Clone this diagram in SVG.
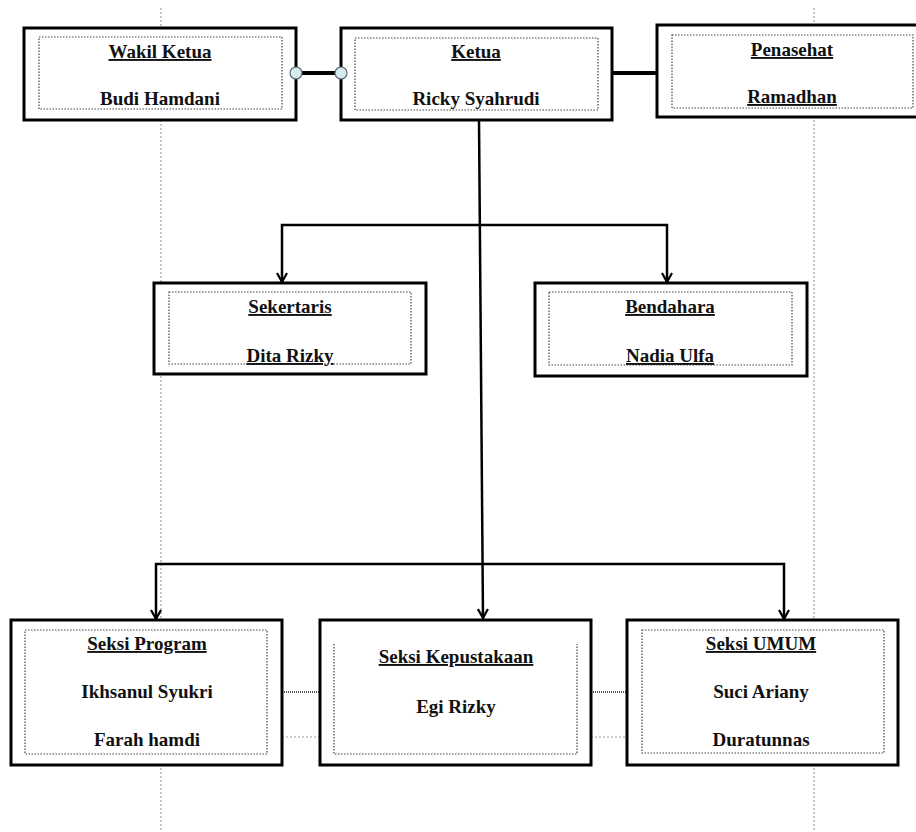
<svg xmlns="http://www.w3.org/2000/svg" width="916" height="832" viewBox="0 0 916 832">
<defs>
<marker id="arr" viewBox="0 0 12 12" refX="11" refY="6" markerWidth="12" markerHeight="12" markerUnits="userSpaceOnUse" orient="auto-start-reverse">
<path d="M2,1 L11,6 L2,11" fill="none" stroke="#000" stroke-width="2.2"/>
</marker>
</defs>
<style>
.guide{stroke:#888;stroke-width:1;stroke-dasharray:2 2;fill:none}
.box{fill:#fff;stroke:#000;stroke-width:3}
.inner{fill:none;stroke:#444;stroke-width:1.2;stroke-dasharray:1.5 1.5}
text{font-family:'Liberation Serif','Times New Roman',serif;font-weight:bold;font-size:19px;fill:#111;text-anchor:middle}
.u{text-decoration:underline}
.con{stroke:#000;stroke-width:2.5;fill:none}
.thick{stroke:#000;stroke-width:4;fill:none}
.dot{stroke:#555;stroke-width:2;stroke-dasharray:1 1;fill:none}
.dot2{stroke:#999;stroke-width:1;stroke-dasharray:2 2;fill:none}
</style>
<rect width="916" height="832" fill="#fff"/>
<g id="guides">
<line class="guide" x1="161" y1="8" x2="161" y2="832"/>
<line class="guide" x1="814" y1="8" x2="814" y2="832"/>
</g>
<g id="connectors">
<line class="thick" x1="296" y1="73" x2="341" y2="73"/>
<line class="thick" x1="612" y1="73" x2="657" y2="73"/>
<line class="con" x1="479" y1="120" x2="483" y2="618" marker-end="url(#arr)"/>
<path class="con" d="M282,282 L282,225 L667,225 L667,282" marker-start="url(#arr)" marker-end="url(#arr)"/>
<path class="con" d="M156,619 L156,564 L784,564 L784,619" marker-start="url(#arr)" marker-end="url(#arr)"/>
<line class="dot" x1="282" y1="692" x2="320" y2="692"/>
<line class="dot" x1="591" y1="692" x2="627" y2="692"/>
<line class="dot2" x1="282" y1="737" x2="320" y2="737"/>
<line class="dot2" x1="591" y1="737" x2="627" y2="737"/>
</g>
<g id="wakil">
<rect class="box" x="24" y="28" width="272" height="92"/>
<rect class="inner" x="39" y="37" width="243" height="72"/>
<text class="u" x="160" y="58" font-family="Liberation Serif">Wakil Ketua</text>
<text x="160" y="105" font-family="Liberation Serif">Budi Hamdani</text>
</g>
<g id="ketua">
<rect class="box" x="341" y="28" width="271" height="92"/>
<rect class="inner" x="355" y="38" width="243" height="72"/>
<text class="u" x="476" y="58">Ketua</text>
<text x="476" y="105">Ricky Syahrudi</text>
</g>
<g id="penasehat">
<rect class="box" x="657" y="25" width="272" height="92"/>
<rect class="inner" x="672" y="35" width="241" height="73"/>
<text class="u" x="792" y="56">Penasehat</text>
<text class="u" x="792" y="103">Ramadhan</text>
</g>
<g id="handles">
<circle cx="296" cy="73" r="6" fill="#d4ecee" stroke="#667" stroke-width="1.2"/>
<circle cx="341" cy="73" r="6" fill="#d4ecee" stroke="#667" stroke-width="1.2"/>
</g>
<g id="sekertaris">
<rect class="box" x="154" y="283" width="272" height="91"/>
<rect class="inner" x="169" y="292" width="242" height="72"/>
<text class="u" x="290" y="313">Sekertaris</text>
<text class="u" x="290" y="362">Dita Rizky</text>
</g>
<g id="bendahara">
<rect class="box" x="535" y="283" width="272" height="93"/>
<rect class="inner" x="549" y="292" width="243" height="73"/>
<text class="u" x="670" y="313">Bendahara</text>
<text class="u" x="670" y="362">Nadia Ulfa</text>
</g>
<g id="program">
<rect class="box" x="11" y="620" width="271" height="145"/>
<rect class="inner" x="25" y="630" width="242" height="124"/>
<text class="u" x="147" y="650">Seksi Program</text>
<text x="147" y="698">Ikhsanul Syukri</text>
<text x="147" y="746">Farah hamdi</text>
</g>
<g id="kepustakaan">
<rect class="box" x="320" y="620" width="271" height="145"/>
<path class="inner" d="M334,644 L334,754 L577,754 L577,644"/>
<text class="u" x="456" y="663">Seksi Kepustakaan</text>
<text x="456" y="713">Egi Rizky</text>
</g>
<g id="umum">
<rect class="box" x="627" y="620" width="271" height="145"/>
<rect class="inner" x="642" y="630" width="242" height="123"/>
<text class="u" x="761" y="650">Seksi UMUM</text>
<text x="761" y="698">Suci Ariany</text>
<text x="761" y="746">Duratunnas</text>
</g>
</svg>
